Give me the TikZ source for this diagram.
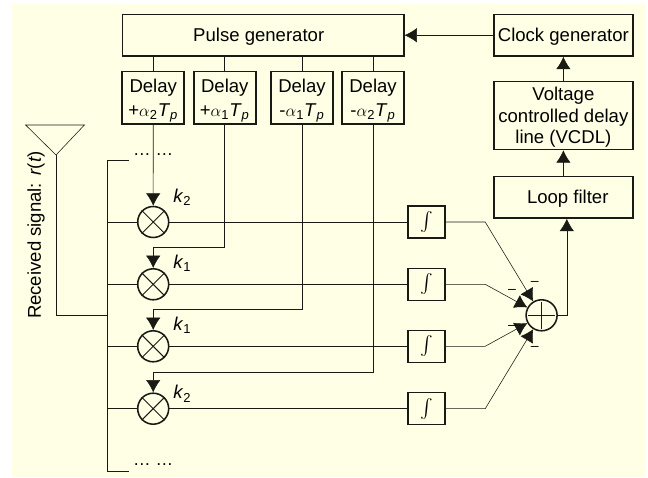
\documentclass[tikz,border=0pt]{standalone}
\usepackage{fontspec}
\setmainfont{Liberation Sans}
\usetikzlibrary{arrows.meta}
\definecolor{paper}{HTML}{FFFFE5}
\definecolor{ink}{HTML}{1A1A14}
\newcommand{\delaytxt}[2]{Delay\\[2pt]#1$\alpha$\textsubscript{#2}\textit{T}\textsubscript{\textit{p}}}
\newcommand{\gain}[1]{\textit{k}\textsubscript{#1}}
\newcommand{\integ}{\scalebox{1.35}{$\int$}}
\tikzset{>={Latex[length=3.1mm,width=3.6mm]},line width=.9pt,
  every node/.style={font=\fontsize{13.2}{15.3}\selectfont,text=black},
  block/.style={draw=ink,fill=paper,line width=1.1pt,inner sep=0pt,align=center},
  textblock/.style={block,text depth=0pt},
  delaybox/.style={textblock,minimum width=1.55cm,minimum height=1.3125cm},
  rightbox/.style={textblock,minimum width=3.48cm},
  intbox/.style={block,minimum width=.92cm,minimum height=.8cm},
  mixer/.style={circle,draw=ink,fill=paper,line width=1.1pt,minimum size=.775cm,inner sep=0pt},
  wire/.style={draw=ink},
  feed/.style={wire,->},
  crossline/.style={draw=ink,line width=.7pt},
  minussign/.style={inner sep=0pt,font=\fontsize{10}{12}\selectfont},
  gainlabel/.style={inner sep=0pt},
  dotslabel/.style={inner sep=0pt,font=\fontsize{12.5}{14}\selectfont}}
\begin{document}
\begin{tikzpicture}
\useasboundingbox(0,0)rectangle(16.2,11.925);
\fill[paper](.3,0)rectangle(16.125,11.825);
\node[textblock,minimum width=7.03cm,minimum height=1.0375cm](pulse)at(6.578,11.044){Pulse generator\hspace*{.22cm}};
\node[delaybox](d1)at(3.831,9.481){\delaytxt{+}{2}};
\node[delaybox](d2)at(5.619,9.481){\delaytxt{+}{1}};
\node[delaybox](d3)at(7.55,9.481){\delaytxt{-}{1}};
\node[delaybox](d4)at(9.325,9.481){\delaytxt{-}{2}};
\node[rightbox,minimum height=1.0375cm](clock)at(14.084,11.044){Clock generator};
\node[rightbox,minimum height=1.7cm](vcdl)at(14.084,9.0375){Voltage\\controlled delay\\line (VCDL)};
\node[rightbox,minimum height=1.0375cm](loop)at(14.084,6.994){\hspace*{.22cm}Loop filter};
\node[mixer](m1)at(3.83,6.375){};
\node[mixer](m2)at(3.83,4.8175){};
\node[mixer](m3)at(3.83,3.2675){};
\node[mixer](m4)at(3.83,1.7075){};
\node[mixer](add)at(13.54,4.0425){};
\node[intbox](i1)at(10.666,6.375){\integ};
\node[intbox](i2)at(10.666,4.8175){\integ};
\node[intbox](i3)at(10.666,3.2675){\integ};
\node[intbox](i4)at(10.666,1.7075){\integ};
\coordinate(b2)at(5.619,5.7425);
\coordinate(b3)at(7.55,4.1825);
\coordinate(b4)at(9.325,2.6175);
\coordinate(c1)at(12.13,6.375);
\coordinate(c2)at(12.13,4.8175);
\coordinate(c3)at(12.13,3.2675);
\coordinate(c4)at(12.13,1.7075);
\coordinate(up)at(14.17,4.0425);
\coordinate(tip)at(1.4,8.05);
\coordinate(joint)at(2.675,4.0425);
\coordinate(bustop)at(2.675,7.925);
\coordinate(busend)at(2.675,.15);
\coordinate(stubtop)at(3.225,7.925);
\coordinate(stubend)at(3.225,.15);
\draw[wire](.64,8.8)--(2.11,8.8)--(tip)--cycle;
\draw[wire](tip)|-(joint);
\draw[wire](stubtop)--(bustop)--(busend)--(stubend);
\draw[wire](m1.west-|joint)--(m1.west);
\draw[wire](m2.west-|joint)--(m2.west);
\draw[wire](m3.west-|joint)--(m3.west);
\draw[wire](m4.west-|joint)--(m4.west);
\draw[crossline](m1.north west)--(m1.south east)(m1.north east)--(m1.south west);
\draw[crossline](m2.north west)--(m2.south east)(m2.north east)--(m2.south west);
\draw[crossline](m3.north west)--(m3.south east)(m3.north east)--(m3.south west);
\draw[crossline](m4.north west)--(m4.south east)(m4.north east)--(m4.south west);
\draw[crossline,shorten >=.07cm,shorten <=.07cm](add.north)--(add.south);
\draw[crossline,shorten >=.07cm,shorten <=.07cm](add.west)--(add.east);
\draw[wire](pulse.south-|d1)--(d1.north);
\draw[wire](pulse.south-|d2)--(d2.north);
\draw[wire](pulse.south-|d3)--(d3.north);
\draw[wire](pulse.south-|d4)--(d4.north);
\draw[feed](d1.south)--(m1.north);
\draw[feed](d2.south)--(b2)-|(m2.north);
\draw[feed](d3.south)--(b3)-|(m3.north);
\draw[feed](d4.south)--(b4)-|(m4.north);
\draw[wire](m1.east)--(i1.west);
\draw[wire](m2.east)--(i2.west);
\draw[wire](m3.east)--(i3.west);
\draw[wire](m4.east)--(i4.west);
\draw[feed](i1.east)--(c1)--(add);
\draw[feed](i2.east)--(c2)--(add);
\draw[feed](i3.east)--(c3)--(add);
\draw[feed](i4.east)--(c4)--(add);
\draw[feed](add.east)--(up)--(up|-loop.south);
\draw[feed](loop.north)--(vcdl.south);
\draw[feed](vcdl.north)--(clock.south);
\draw[feed](clock.west)--(clock.west-|pulse.east);
\node[gainlabel](k1)at(4.56,7.0){\gain{2}};
\node[gainlabel](k2)at(4.56,5.35){\gain{1}};
\node[gainlabel](k3)at(4.56,3.8){\gain{1}};
\node[gainlabel](k4)at(4.56,2.08){\gain{2}};
\node[minussign](n1)at(13.37,4.85){--};
\node[minussign](n2)at(12.8,4.65){--};
\node[minussign](n3)at(12.8,3.74){--};
\node[minussign](n4)at(13.37,3.21){--};
\node[dotslabel](dots1)at(3.83,8.05){\dots\ \dots};
\node[dotslabel](dots2)at(3.83,.3){\dots\ \dots};
\node[rotate=90,inner sep=0pt](rx)at(.905,6.05){Received signal: \textit{r}(\textit{t})};
\end{tikzpicture}
\end{document}
